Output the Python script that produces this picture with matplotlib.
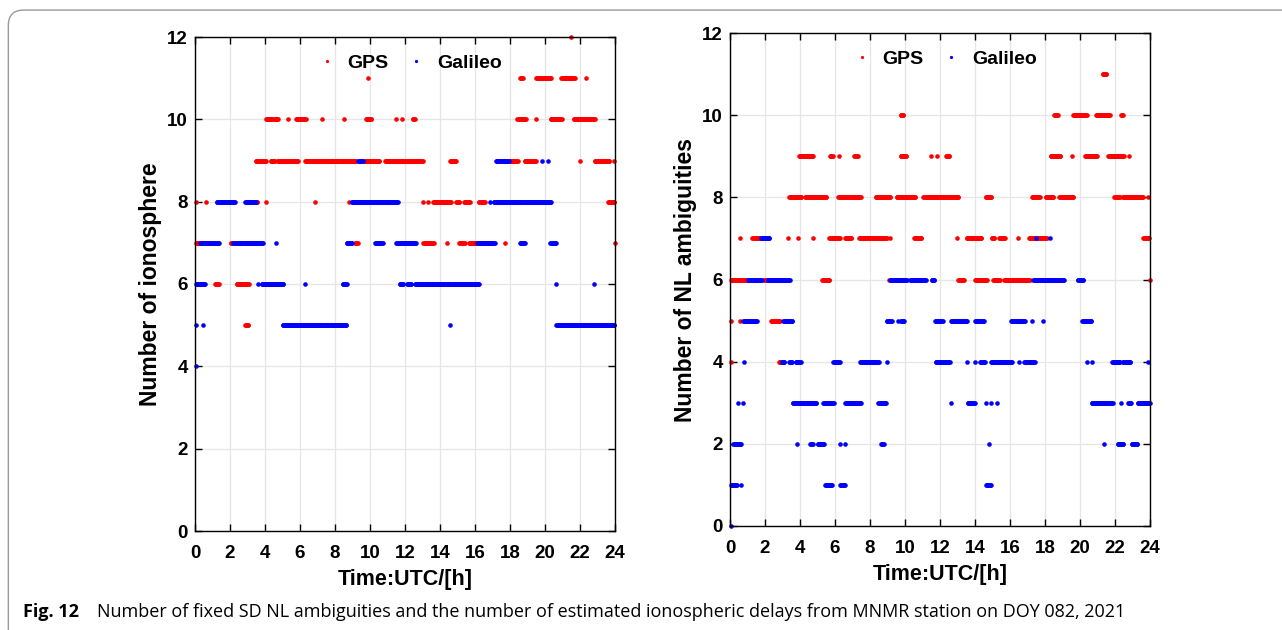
import numpy as np
import matplotlib.pyplot as plt
from matplotlib.patches import FancyBboxPatch

# runs of constant count: (count, start hour, end hour); start == end is a single epoch
iono_gps = [
    (12, 21.47, 21.47),
    (11, 9.86, 9.86), (11, 18.56, 18.75), (11, 19.5, 20.37), (11, 20.94, 21.7), (11, 22.36, 22.36),
    (10, 4.05, 4.45), (10, 4.55, 4.76), (10, 5.33, 5.33), (10, 5.77, 6.34), (10, 7.23, 7.23),
    (10, 8.51, 8.51), (10, 9.76, 10.09), (10, 11.48, 11.48), (10, 11.82, 11.82), (10, 12.43, 12.56),
    (10, 18.42, 18.9), (10, 19.5, 19.5), (10, 20.33, 21.0), (10, 21.64, 22.84),
    (9, 3.46, 4.09), (9, 4.32, 4.57), (9, 4.72, 5.9), (9, 6.28, 9.23), (9, 9.7, 10.56),
    (9, 10.85, 13.04), (9, 14.56, 14.94), (9, 17.32, 18.46), (9, 18.84, 19.5), (9, 21.98, 21.98),
    (9, 22.84, 23.7), (9, 23.92, 23.92),
    (8, 0.05, 0.05), (8, 0.63, 0.63), (8, 3.05, 3.6), (8, 4.05, 4.05), (8, 6.85, 6.85),
    (8, 8.81, 8.81), (8, 10.66, 10.66), (8, 13.04, 13.04), (8, 13.32, 13.32), (8, 13.6, 14.65),
    (8, 14.94, 15.13), (8, 15.36, 15.74), (8, 16.2, 16.56), (8, 17.4, 17.9), (8, 23.6, 23.98),
    (7, 0.05, 1.24), (7, 2.04, 2.28), (7, 2.99, 3.43), (7, 9.14, 9.33), (7, 13.04, 13.65),
    (7, 14.41, 14.41), (7, 15.1, 15.44), (7, 15.66, 16.27), (7, 17.7, 17.7), (7, 23.98, 23.98),
    (6, 1.14, 1.39), (6, 2.38, 3.06),
    (5, 2.85, 3.06),
]
iono_gal = [
    (9, 9.33, 9.61), (9, 17.19, 17.95), (9, 19.85, 19.85), (9, 20.17, 20.17),
    (8, 1.24, 2.28), (8, 2.85, 3.52), (8, 8.95, 11.61), (8, 16.84, 16.84), (8, 17.07, 20.37),
    (7, 0.29, 1.39), (7, 2.19, 3.43), (7, 3.43, 3.9), (7, 4.6, 4.6), (7, 8.66, 9.0),
    (7, 10.28, 10.72), (7, 11.51, 12.66), (7, 16.12, 17.13), (7, 18.56, 18.84), (7, 20.31, 20.65),
    (6, 0.05, 0.57), (6, 3.62, 3.62), (6, 3.8, 5.04), (6, 6.28, 6.28), (6, 8.43, 8.7),
    (6, 11.7, 11.9), (6, 12.12, 12.37), (6, 12.56, 16.27), (6, 20.65, 20.65), (6, 22.8, 22.8),
    (5, 0.05, 0.05), (5, 0.44, 0.44), (5, 5.0, 8.66), (5, 14.56, 14.56), (5, 20.65, 24.0),
    (4, 0.05, 0.05),
]
nl_gps = [
    (11, 21.3, 21.5),
    (10, 9.75, 9.94), (10, 18.53, 18.76), (10, 19.62, 20.38), (10, 20.91, 21.71), (10, 22.34, 22.48),
    (9, 3.94, 4.76), (9, 5.71, 5.9), (9, 6.25, 6.25), (9, 7.1, 7.3), (9, 9.75, 10.1),
    (9, 11.49, 11.49), (9, 11.81, 11.81), (9, 12.34, 12.57), (9, 18.32, 18.91), (9, 19.52, 19.52),
    (9, 20.29, 21.0), (9, 21.62, 22.53), (9, 22.8, 22.8),
    (8, 3.39, 4.1), (8, 4.29, 4.57), (8, 4.63, 5.52), (8, 6.19, 7.49), (8, 8.32, 9.18),
    (8, 9.52, 10.61), (8, 11.05, 13.05), (8, 14.61, 14.95), (8, 17.26, 17.71), (8, 18.04, 18.48),
    (8, 18.82, 19.62), (8, 21.96, 22.29), (8, 22.44, 23.62), (8, 23.9, 23.9),
    (7, 0.57, 0.57), (7, 1.28, 1.77), (7, 3.33, 3.33), (7, 3.87, 3.87), (7, 4.76, 4.76),
    (7, 5.68, 6.29), (7, 6.57, 6.95), (7, 7.39, 8.95), (7, 9.14, 9.14), (7, 10.53, 10.95),
    (7, 12.95, 12.95), (7, 13.52, 14.38), (7, 14.95, 15.14), (7, 15.37, 15.71), (7, 16.48, 16.48),
    (7, 17.09, 18.1), (7, 23.62, 23.94),
    (6, 0.06, 1.05), (6, 1.96, 3.33), (6, 5.28, 5.71), (6, 9.09, 9.09), (6, 13.05, 13.39),
    (6, 13.99, 14.67), (6, 15.05, 15.43), (6, 15.68, 17.14), (6, 24.0, 24.0),
    (5, 0.06, 0.06), (5, 0.57, 0.57), (5, 2.34, 2.86),
    (4, 0.06, 0.06), (4, 2.8, 3.05),
]
nl_gal = [
    (7, 1.77, 2.25), (7, 17.5, 17.5), (7, 18.3, 18.3),
    (6, 1.05, 1.81), (6, 2.15, 3.43), (6, 9.14, 10.1), (6, 10.29, 11.24), (6, 11.52, 11.71),
    (6, 17.33, 19.1), (6, 19.87, 20.19),
    (5, 0.76, 1.52), (5, 3.05, 3.58), (5, 8.95, 9.24), (5, 9.58, 9.58), (5, 9.75, 9.96),
    (5, 11.71, 12.15), (5, 12.63, 13.58), (5, 14.0, 14.53), (5, 16.06, 16.86), (5, 17.24, 17.24),
    (5, 17.9, 17.9), (5, 20.13, 20.67),
    (4, 0.82, 0.82), (4, 2.95, 3.14), (4, 3.39, 3.58), (4, 3.75, 4.06), (4, 5.9, 6.29),
    (4, 7.43, 8.51), (4, 8.95, 8.95), (4, 11.75, 12.57), (4, 13.56, 13.56), (4, 13.99, 13.99),
    (4, 14.29, 14.57), (4, 14.91, 16.13), (4, 16.51, 16.51), (4, 16.82, 17.43), (4, 20.38, 20.38),
    (4, 20.67, 20.67), (4, 21.85, 22.29), (4, 22.44, 22.91), (4, 23.87, 23.87),
    (3, 0.44, 0.44), (3, 0.76, 0.76), (3, 3.58, 4.95), (3, 5.33, 5.96), (3, 6.57, 7.49),
    (3, 8.48, 8.95), (3, 12.63, 12.63), (3, 13.58, 14.0), (3, 14.63, 14.63), (3, 14.91, 14.91),
    (3, 15.24, 15.24), (3, 20.67, 21.9), (3, 22.34, 22.34), (3, 22.76, 22.95), (3, 23.3, 24.0),
    (2, 0.19, 0.63), (2, 3.81, 3.81), (2, 4.57, 4.76), (2, 5.01, 5.39), (2, 6.29, 6.29),
    (2, 6.57, 6.57), (2, 8.63, 8.82), (2, 14.82, 14.82), (2, 21.39, 21.39), (2, 22.15, 22.48),
    (2, 22.95, 23.3),
    (1, 0.06, 0.38), (1, 0.63, 0.63), (1, 5.43, 5.85), (1, 6.29, 6.57), (1, 14.63, 14.91),
    (0, 0.06, 0.06),
]
x_ticks = list(range(0, 25, 2))
y_ticks = list(range(0, 13, 2))
ylabels = ['Number of ionosphere', 'Number of NL ambiguities']
caption_bold = 'Fig. 12'
caption = 'Number of fixed SD NL ambiguities and the number of estimated ionospheric delays from MNMR station on DOY 082, 2021'

STEP = 0.04  # epoch spacing in hours used to fill a run


def expand(runs):
    t, n = [], []
    for lev, t0, t1 in runs:
        tt = np.arange(t0, t1 + 1e-9, STEP) if t1 > t0 else np.array([t0])
        t.extend(tt)
        n.extend([lev] * len(tt))
    return np.array(t), np.array(n)


plt.rcParams['font.family'] = ['Liberation Sans', 'DejaVu Sans']
fig = plt.figure(figsize=(12.82, 6.30), dpi=100)

# page frame
fig.patches.append(FancyBboxPatch((0.0065, -0.2), 1.2, 1.184, boxstyle='round,pad=0,rounding_size=0.012',
                                  transform=fig.transFigure, fill=False, edgecolor='#9a9a9a', lw=1.0,
                                  mutation_aspect=1282 / 630))

axes_pos = [[195 / 1282, 1 - 531 / 630, 420 / 1282, 494 / 630],
            [730 / 1282, 1 - 526 / 630, 420 / 1282, 493 / 630]]
panels = [(iono_gps, iono_gal), (nl_gps, nl_gal)]

for pos, (gps, gal), ylab in zip(axes_pos, panels, ylabels):
    ax = fig.add_axes(pos)
    tg, ng = expand(gps)
    te, ne = expand(gal)
    ax.plot(tg, ng, 'o', color='red', ms=3.3, mew=0, label='GPS', clip_on=False)
    ax.plot(te, ne, 'o', color='blue', ms=3.3, mew=0, label='Galileo', clip_on=False)
    ax.set_xlim(0, 24)
    ax.set_ylim(0, 12)
    ax.set_xticks(x_ticks)
    ax.set_yticks(y_ticks)
    ax.grid(True, color='#e6e6e6', lw=0.9)
    ax.set_axisbelow(True)
    ax.tick_params(direction='in', top=True, right=True, length=5, width=1.0,
                   labelsize=13.5)
    ax.tick_params(axis='x', pad=10)
    ax.tick_params(axis='y', pad=5)
    for lbl in ax.get_xticklabels() + ax.get_yticklabels():
        lbl.set_fontweight('bold')
    for sp in ax.spines.values():
        sp.set_linewidth(1.0)
    ax.set_xlabel('Time:UTC/[h]', fontsize=15.5, fontweight='bold', labelpad=5)
    ax.set_ylabel(ylab, fontsize=16.5, fontweight='bold', labelpad=4)
    leg = ax.legend(loc='upper center', ncol=2, frameon=False, markerscale=0.7,
                    prop={'weight': 'bold', 'size': 14}, handlelength=1.2, handletextpad=0.45,
                    columnspacing=0.85, bbox_to_anchor=(0.508, 1.0))

fig.text(23 / 1282, 1 - 612 / 630, caption_bold, fontsize=13, fontweight='bold',
         va='center', ha='left', family=['Open Sans', 'DejaVu Sans'])
fig.text(97 / 1282, 1 - 612 / 630, caption, fontsize=13, va='center', ha='left',
         family=['Open Sans', 'DejaVu Sans'])

fig.savefig('out.png', dpi=100)
